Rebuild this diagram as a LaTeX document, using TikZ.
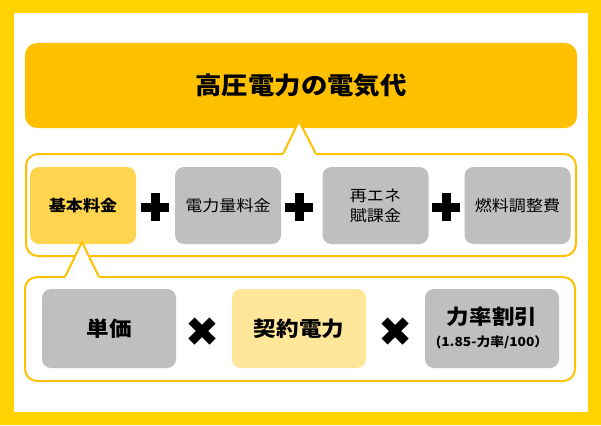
\documentclass[tikz,border=0pt]{standalone}
\usepackage{fontspec}
\setmainfont{Noto Sans CJK JP}[FakeStretch=1.1]
\definecolor{framey}{HTML}{FFD200}
\definecolor{gold}{HTML}{FFC000}
\definecolor{basey}{HTML}{FFD54F}
\definecolor{palay}{HTML}{FFE699}
\definecolor{greyb}{HTML}{BFBFBF}
\begin{document}
\begin{tikzpicture}[x=1pt, y=-1pt,
  blk/.style={rounded corners=9pt,minimum width=106pt,minimum height=77pt,align=center,inner sep=0pt,font=\fontsize{15.5}{20}\selectfont},
  big/.style={blk,minimum width=134pt,minimum height=79pt,font=\bfseries\fontsize{20.5}{24}\selectfont},
  wrap/.style={draw=gold,line width=2pt,fill=white,rounded corners=12pt,minimum width=550pt,inner sep=0pt},
  plusop/.style={minimum size=28pt,inner sep=0pt,path picture={
    \draw[line width=9pt] (path picture bounding box.north) -- (path picture bounding box.south);
    \draw[line width=9pt] (path picture bounding box.west) -- (path picture bounding box.east);}},
  timesop/.style={minimum size=36pt,inner sep=0pt,path picture={
    \draw[line width=8.5pt] ([shift={(-10.5pt,-10.5pt)}]path picture bounding box.center) -- ([shift={(10.5pt,10.5pt)}]path picture bounding box.center);
    \draw[line width=8.5pt] ([shift={(-10.5pt,10.5pt)}]path picture bounding box.center) -- ([shift={(10.5pt,-10.5pt)}]path picture bounding box.center);}}]
\useasboundingbox (0,0) rectangle (601,425);
% frame
\fill[framey] (0,0) rectangle (601,425);
\fill[white] (14,13) rectangle (588,412);
% title
\node[fill=gold,rounded corners=12pt,minimum width=552pt,minimum height=85pt,inner sep=0pt,
  font=\bfseries\fontsize{24}{28}\selectfont] (total) at (301,85.5) {高圧電力の電気代};
% row of charges
\node[wrap,minimum height=102pt] (row1) at (301,205) {};
\coordinate (tip1) at (299,121);
\fill[white] (tip1) -- (282.5,155.5) -- (316.5,155.5) -- cycle;
\draw[gold,line width=2pt,line join=round] (283,154) -- (tip1) -- (316,154);
\node[blk,fill=basey,font=\bfseries\fontsize{15.5}{20}\selectfont] (base) at (83,205.5) {基本料金};
\node[blk,fill=greyb] (usage) at (228,205.5) {電力量料金};
\node[blk,fill=greyb] (renew) at (375.5,205.5) {再エネ\\賦課金};
\node[blk,fill=greyb] (fuel) at (517.5,205.5) {燃料調整費};
\node[plusop] (p1) at (155,207) {};
\node[plusop] (p2) at (299,207) {};
\node[plusop] (p3) at (446,207) {};
% basic charge breakdown
\node[wrap,minimum height=104pt] (row2) at (300,329) {};
\coordinate (tip2) at (82,242);
\fill[white] (tip2) -- (64.5,278.5) -- (99.5,278.5) -- cycle;
\draw[gold,line width=2pt,line join=round] (65,277) -- (tip2) -- (99,277);
\node[big,fill=greyb] (unit) at (109,328.5) {単価};
\node[big,fill=palay] (contract) at (299,328.5) {契約電力};
\node[big,fill=greyb] (pf) at (492,328.5) {力率割引\\[-2pt]{\fontsize{12.5}{14}\selectfont (1.85-力率/100）}};
\node[timesop] (t1) at (202,331) {};
\node[timesop] (t2) at (395,331) {};
\end{tikzpicture}
\end{document}
